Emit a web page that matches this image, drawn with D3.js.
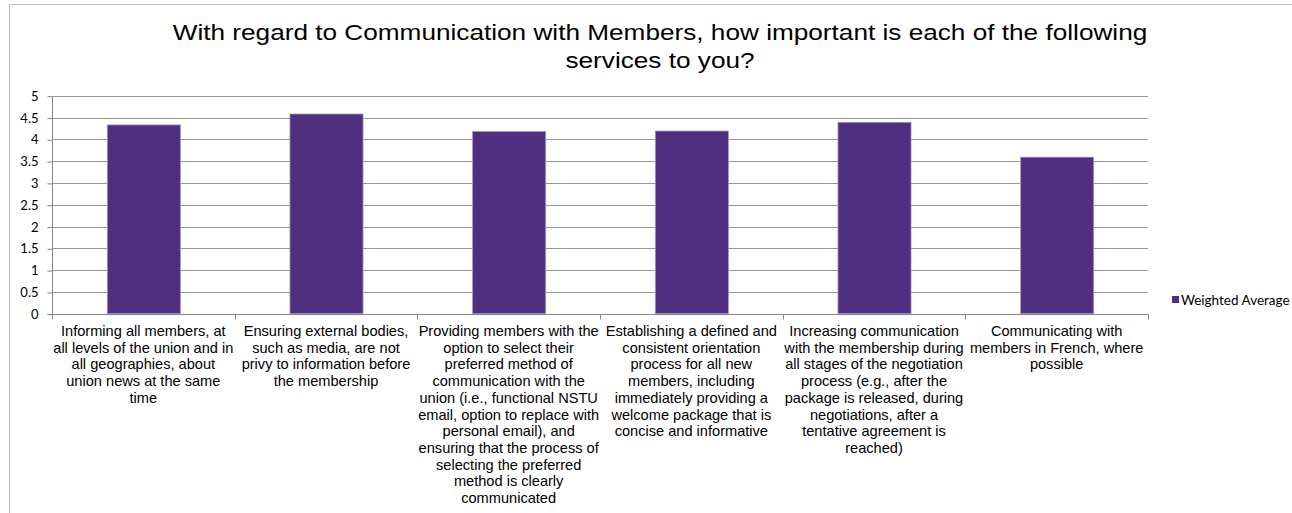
<!DOCTYPE html>
<meta charset="utf-8">
<style>
body { margin: 0; background: #fff; }
.title { font-family: "Liberation Sans", Arial, sans-serif; font-size: 22px; fill: #000; }
.cat { font-family: "Liberation Sans", Arial, sans-serif; font-size: 14.6px; fill: #000; }
.yaxis text { font-family: Lato, "Open Sans", sans-serif; font-size: 13px; fill: #000; }
.legend { font-family: Lato, "Open Sans", sans-serif; font-size: 13.5px; fill: #000; }
</style>
<body>
<script src="https://cdn.jsdelivr.net/npm/d3@7"></script>
<script>
var categories = [
  "Informing all members, at all levels of the union and in all geographies, about union news at the same time",
  "Ensuring external bodies, such as media, are not privy to information before the membership",
  "Providing members with the option to select their preferred method of communication with the union (i.e., functional NSTU email, option to replace with personal email), and ensuring that the process of selecting the preferred method is clearly communicated",
  "Establishing a defined and consistent orientation process for all new members, including immediately providing a welcome package that is concise and informative",
  "Increasing communication with the membership during all stages of the negotiation process (e.g., after the package is released, during negotiations, after a tentative agreement is reached)",
  "Communicating with members in French, where possible"
];
var values = [4.33, 4.58, 4.18, 4.19, 4.39, 3.59];
var yTicks = [0, 0.5, 1, 1.5, 2, 2.5, 3, 3.5, 4, 4.5, 5];
var seriesName = "Weighted Average";
var titleLines = ["With regard to Communication with Members, how important is each of the following", "services to you?"];

var width = 1292, height = 513;
var plot = {left: 52, right: 1148, top: 95.7, bottom: 313.7};

var svg = d3.select("body").append("svg")
    .attr("width", width)
    .attr("height", height);

// chart area border (runs off the right and bottom edges)
svg.append("path")
    .attr("d", "M9.5," + height + "V4.5H" + width)
    .attr("fill", "none")
    .attr("stroke", "#bfbfbf");

// title is a little wider than its height suggests, so stretch it
svg.append("g")
    .attr("transform", "translate(660,0) scale(1.19,1)")
    .append("text")
    .attr("class", "title")
    .attr("text-anchor", "middle")
    .selectAll("tspan")
    .data(titleLines)
    .enter()
    .append("tspan")
    .attr("x", 0)
    .attr("y", function(d, i) { return 40 + i * 28; })
    .text(function(d) { return d; });

var x = d3.scaleBand()
    .domain(d3.range(categories.length))
    .range([plot.left, plot.right])
    .paddingInner(0.6)
    .paddingOuter(0.3);

var xOuter = d3.scaleBand()
    .domain(d3.range(categories.length))
    .range([plot.left, plot.right]);

var y = d3.scaleLinear()
    .domain([0, 5])
    .range([plot.bottom, plot.top]);

// gridlines
svg.append("g")
    .selectAll("line")
    .data(yTicks.filter(function(d) { return d > 0; }))
    .enter()
    .append("line")
    .attr("x1", plot.left)
    .attr("x2", plot.right)
    .attr("y1", function(d) { return Math.round(y(d)) + 0.5; })
    .attr("y2", function(d) { return Math.round(y(d)) + 0.5; })
    .attr("stroke", "#969696");

// y axis
var yAxis = svg.append("g")
    .attr("class", "yaxis")
    .attr("transform", "translate(" + (plot.left + 0.5) + ",0.5)")
    .call(d3.axisLeft(y).tickValues(yTicks).tickSize(5).tickPadding(9).tickFormat(d3.format("")));
yAxis.selectAll("line, path").attr("stroke", "#868686");
yAxis.select(".domain").attr("d", "M-5," + Math.round(plot.bottom) + "H0V" + Math.round(plot.top));

// bars
svg.append("g")
    .selectAll("rect")
    .data(values)
    .enter()
    .append("rect")
    .attr("x", function(d, i) { return x(i) + 0.5; })
    .attr("width", x.bandwidth())
    .attr("y", function(d) { return y(d); })
    .attr("height", function(d) { return y(0) - y(d); })
    .attr("fill", "#4f2f7f")
    .attr("stroke", "#a494c4")
    .attr("stroke-width", 0.8);

// x axis
var xAxis = svg.append("g")
    .attr("transform", "translate(0," + (Math.round(plot.bottom) + 0.5) + ")");
xAxis.append("line")
    .attr("x1", plot.left)
    .attr("x2", plot.right)
    .attr("stroke", "#868686");
xAxis.selectAll(".tick")
    .data(d3.range(categories.length + 1))
    .enter()
    .append("line")
    .attr("x1", function(d) { return Math.round(plot.left + d * xOuter.step()) + 0.5; })
    .attr("x2", function(d) { return Math.round(plot.left + d * xOuter.step()) + 0.5; })
    .attr("y1", 0)
    .attr("y2", 5)
    .attr("stroke", "#868686");

// category labels, wrapped to the band width
var labels = svg.append("g")
    .selectAll("text")
    .data(categories)
    .enter()
    .append("text")
    .attr("class", "cat")
    .attr("text-anchor", "middle")
    .attr("x", function(d, i) { return xOuter(i) + xOuter.bandwidth() / 2; })
    .attr("y", 336);

labels.each(function(d) {
    var text = d3.select(this);
    var cx = text.attr("x");
    var words = d.split(" ");
    var line = [];
    var lineNo = 0;
    var tspan = text.append("tspan").attr("x", cx).attr("y", 336);
    words.forEach(function(w) {
        line.push(w);
        tspan.text(line.join(" "));
        if (tspan.node().getComputedTextLength() > 182 && line.length > 1) {
            line.pop();
            tspan.text(line.join(" "));
            line = [w];
            lineNo++;
            tspan = text.append("tspan").attr("x", cx).attr("y", 336 + lineNo * 16.7).text(w);
        }
    });
});

// legend
var legend = svg.append("g").attr("transform", "translate(1172,300)");
legend.append("rect")
    .attr("x", 0)
    .attr("y", -4)
    .attr("width", 7)
    .attr("height", 7)
    .attr("fill", "#4f2f7f");
legend.append("text")
    .attr("class", "legend")
    .attr("x", 9)
    .attr("y", 4.5)
    .text(seriesName);
</script>
</body>
